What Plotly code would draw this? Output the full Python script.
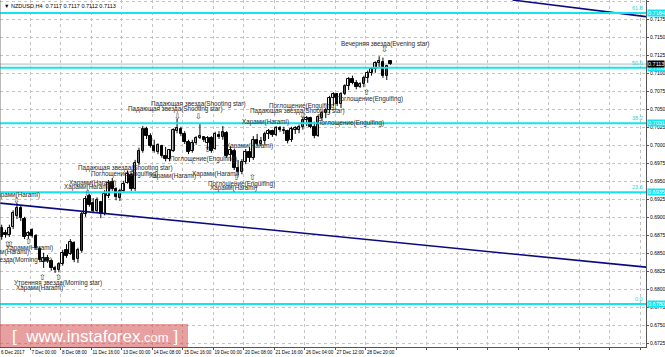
import plotly.graph_objects as go

# ---------------- data ----------------
opens = [0.6885,0.6878,0.6876,0.6887,0.6902,0.6913,0.6898,0.6874,0.6883,0.6874,
         0.6856,0.6838,0.6844,0.6840,0.6830,0.6827,0.6835,0.6855,0.6849,0.6865,
         0.6842,0.6853,0.6905,0.6930,0.6920,0.6909,0.6922,0.6905,0.6930,0.6950,
         0.6940,0.6927,0.6937,0.6948,0.6959,0.6940,0.6976,0.6992,0.7023,0.7013,
         0.6999,0.6991,0.6999,0.6985,0.6981,0.6992,0.7020,0.7023,0.7016,0.7005,
         0.6992,0.7003,0.7010,0.7012,0.7003,0.7010,0.6995,0.7015,0.7012,0.7017,
         0.6987,0.6992,0.6969,0.6963,0.6977,0.6991,0.6983,0.7008,0.7002,0.7006,
         0.7016,0.7020,0.7015,0.7024,0.7022,0.7020,0.7008,0.7021,0.7022,0.7026,
         0.7035,0.7038,0.7026,0.7013,0.7038,0.7045,0.7049,0.7066,0.7072,0.7058,
         0.7072,0.7083,0.7092,0.7087,0.7081,0.7085,0.7094,0.7101,0.7106,0.7115,
         0.7116,0.7097,0.7117]
highs = [0.6890,0.6883,0.6890,0.6910,0.6920,0.6916,0.6901,0.6881,0.6885,0.6877,
         0.6859,0.6851,0.6848,0.6842,0.6833,0.6838,0.6855,0.6863,0.6870,0.6867,
         0.6858,0.6908,0.6930,0.6933,0.6927,0.6928,0.6923,0.6938,0.6952,0.6955,
         0.6942,0.6940,0.6951,0.6965,0.6962,0.6980,0.6997,0.7027,0.7026,0.7017,
         0.7008,0.7003,0.7001,0.6998,0.6995,0.7024,0.7037,0.7026,0.7020,0.7008,
         0.7008,0.7013,0.7031,0.7013,0.7013,0.7013,0.7019,0.7020,0.7027,0.7020,
         0.6999,0.6995,0.6980,0.6981,0.6995,0.6998,0.7013,0.7016,0.7012,0.7019,
         0.7023,0.7022,0.7027,0.7027,0.7026,0.7022,0.7026,0.7027,0.7029,0.7040,
         0.7041,0.7040,0.7033,0.7043,0.7048,0.7052,0.7069,0.7074,0.7073,0.7074,
         0.7085,0.7095,0.7097,0.7091,0.7088,0.7097,0.7104,0.7109,0.7117,0.7124,
         0.7122,0.7112,0.7117]
lows = [0.6869,0.6872,0.6873,0.6884,0.6898,0.6895,0.6870,0.6870,0.6872,0.6855,
        0.6838,0.6830,0.6837,0.6826,0.6823,0.6824,0.6833,0.6844,0.6848,0.6838,
        0.6837,0.6851,0.6901,0.6915,0.6906,0.6907,0.6899,0.6903,0.6927,0.6937,
        0.6924,0.6923,0.6935,0.6947,0.6937,0.6937,0.6973,0.6990,0.7009,0.6997,
        0.6990,0.6988,0.6983,0.6978,0.6978,0.6991,0.7017,0.7013,0.7002,0.6988,
        0.6990,0.7001,0.7009,0.7005,0.6994,0.6990,0.6994,0.7009,0.7008,0.6983,
        0.6978,0.6966,0.6959,0.6960,0.6974,0.6977,0.6980,0.6999,0.6999,0.7001,
        0.7009,0.7012,0.7013,0.7019,0.7016,0.7003,0.7005,0.7016,0.7017,0.7022,
        0.7027,0.7024,0.7010,0.7012,0.7034,0.7038,0.7045,0.7055,0.7055,0.7052,
        0.7070,0.7077,0.7085,0.7078,0.7080,0.7081,0.7087,0.7097,0.7101,0.7108,
        0.7094,0.7091,0.7112]
closes = [0.6873,0.6876,0.6885,0.6906,0.6913,0.6899,0.6873,0.6878,0.6874,0.6858,
          0.6841,0.6844,0.6840,0.6830,0.6827,0.6835,0.6851,0.6847,0.6866,0.6841,
          0.6855,0.6905,0.6926,0.6918,0.6909,0.6924,0.6905,0.6933,0.6948,0.6940,
          0.6928,0.6937,0.6947,0.6960,0.6940,0.6976,0.6992,0.7023,0.7013,0.6999,
          0.6992,0.7001,0.6985,0.6981,0.6994,0.7022,0.7024,0.7016,0.7005,0.6991,
          0.7003,0.7010,0.7013,0.7008,0.7010,0.6992,0.7016,0.7012,0.7019,0.6985,
          0.6994,0.6969,0.6963,0.6977,0.6991,0.6983,0.7008,0.7002,0.7006,0.7016,
          0.7020,0.7015,0.7024,0.7022,0.7020,0.7006,0.7023,0.7024,0.7026,0.7035,
          0.7038,0.7026,0.7013,0.7040,0.7045,0.7049,0.7066,0.7072,0.7058,0.7072,
          0.7083,0.7092,0.7087,0.7081,0.7085,0.7094,0.7101,0.7106,0.7115,0.7118,
          0.7097,0.7110,0.7113]

date_labels = ["6 Dec 2017", "7 Dec 00:00", "8 Dec 08:00", "11 Dec 16:00", "13 Dec 00:00",
               "14 Dec 08:00", "15 Dec 16:00", "19 Dec 00:00", "20 Dec 08:00",
               "21 Dec 16:00", "26 Dec 04:00", "27 Dec 12:00", "28 Dec 20:00"]

fib_names = ["61.8", "50.0", "38.2", "23.6", "0.0"]
fib_prices = [0.7184, 0.7108, 0.7031, 0.6935, 0.6780]

last_price = 0.7113
header_text = "▼ NZDUSD,H4  0.7117 0.7117 0.7112 0.7113"

trend_low_bars = [-0.45, 169.0]
trend_low_prices = [0.6920, 0.6831]
trend_high_bars = [134.0, 169.0]
trend_high_prices = [0.7202, 0.7179]

label_texts = ["Вечерняя звезда(Evening star)", "Падающая звезда(Shooting star)",
               "Падающая звезда(Shooting star)", "Падающая звезда(Shooting star)",
               "Поглощение(Engulfing)", "Харами(Harami)", "Харами(Harami)",
               "Харами(Harami)", "Харами(Harami)", "Харами(Harami)",
               "Утренняя звезда(Morning star)", "Утренняя звезда(Morning star)",
               "Харами(Harami)", "Поглощение(Engulfing)", "Харами(Harami)",
               "Харами(Harami)", "Харами(Harami)", "Поглощение(Engulfing)",
               "Харами(Harami)", "Поглощение(Engulfing)", "Поглощение(Engulfing)",
               "Падающая звезда(Shooting star)", "Поглощение(Engulfing)", "Харами(Harami)"]
label_bars = [100.5, 51.5, 45.7, 32.6, 32.3, 23.9, 22.4, 3.75, 7.4, 0.87, 1.65, 14.8,
              10.0, 52.8, 64.9, 44.7, 56.2, 62.8, 60.7, 96.6, 79.0, 77.5, 91.4, 69.3]
label_prices = [0.7141, 0.7058, 0.7051, 0.6969, 0.6960, 0.6948, 0.6942, 0.6931, 0.6858,
                0.6852, 0.6841, 0.6809, 0.6802, 0.6981, 0.7000, 0.6958, 0.6960, 0.6947,
                0.6941, 0.7065, 0.7055, 0.7048, 0.7031, 0.7033]

arrow_bars = [100.3, 51.5, 46.0, 34.2, 22.6, 3.75, 1.4, 2.4, 6.9, 10.8, 14.8, 53.9,
              61.5, 65.7, 95.6, 78.8, 83.5]
arrow_prices = [0.7133, 0.7040, 0.7040, 0.6963, 0.6934, 0.6923, 0.6862, 0.6862, 0.6866,
                0.6817, 0.6817, 0.6994, 0.6956, 0.6955, 0.7074, 0.7041, 0.7040]
arrow_dirs = ["down", "down", "down", "down", "down", "down", "up", "up", "up", "up",
              "up", "up", "up", "up", "up", "down", "up"]

# ---------------- figure ----------------
W, H = 665, 357
ML, MR, MT, MB = 0, 19, 0, 10
idx = list(range(len(opens)))

fig = go.Figure()

# wicks
wx, wy = [], []
for i, (h, l) in enumerate(zip(highs, lows)):
    wx += [i, i, None]
    wy += [l, h, None]
fig.add_trace(go.Scatter(x=wx, y=wy, mode="lines", line=dict(color="black", width=1),
                         hoverinfo="skip", showlegend=False))

# bodies
body_base = [min(o, c) for o, c in zip(opens, closes)]
body_h = [max(abs(c - o), 0.00004) for o, c in zip(opens, closes)]
body_col = ["white" if c >= o else "black" for o, c in zip(opens, closes)]
fig.add_trace(go.Bar(x=idx, y=body_h, base=body_base, width=0.66,
                     marker=dict(color=body_col, line=dict(color="black", width=1)),
                     showlegend=False, hoverinfo="skip"))

# trend lines
fig.add_trace(go.Scatter(x=trend_low_bars, y=trend_low_prices, mode="lines",
                         line=dict(color="#0a0a80", width=1.6), showlegend=False, hoverinfo="skip"))
fig.add_trace(go.Scatter(x=trend_high_bars, y=trend_high_prices, mode="lines",
                         line=dict(color="#0a0a80", width=1.6), showlegend=False, hoverinfo="skip"))

shapes = []
# bid line
shapes.append(dict(type="line", xref="paper", x0=0, x1=1, yref="y", y0=last_price, y1=last_price,
                   line=dict(color="#d6d6d6", width=2), layer="below"))
# fib lines
for p in fib_prices:
    shapes.append(dict(type="line", xref="paper", x0=0, x1=1, yref="y", y0=p, y1=p,
                       line=dict(color="#12E4F0", width=2)))
# left border
shapes.append(dict(type="line", xref="paper", yref="paper", x0=0, x1=0, y0=0, y1=1,
                   line=dict(color="#777", width=1)))
# watermark box
plot_w = W - ML - MR
plot_h = H - MT - MB
shapes.append(dict(type="rect", xref="paper", yref="paper", x0=0, x1=188 / plot_w,
                   y0=0, y1=23 / plot_h, fillcolor="rgba(214,80,80,0.55)", line=dict(width=0)))

annotations = []
txt_font = dict(family="Liberation Sans, Arial", size=6.3, color="#2a2a2a")
for t, b, p in zip(label_texts, label_bars, label_prices):
    annotations.append(dict(x=b, y=p, xref="x", yref="y", text=t, showarrow=False,
                            font=txt_font, xanchor="center", yanchor="middle"))
for b, p, d in zip(arrow_bars, arrow_prices, arrow_dirs):
    annotations.append(dict(x=b, y=p, xref="x", yref="y", text="⇩" if d == "down" else "⇧",
                            showarrow=False, font=dict(family="DejaVu Sans", size=8, color="#333"),
                            xanchor="center", yanchor="middle"))
# fib level names and price boxes
for n, p in zip(fib_names, fib_prices):
    annotations.append(dict(x=0.998, y=p, xref="paper", yref="y", text=n, showarrow=False,
                            font=dict(family="Liberation Sans, Arial", size=5.5, color="#2ad8e0"),
                            xanchor="right", yanchor="bottom", yshift=0))
    annotations.append(dict(x=1, y=p, xref="paper", yref="y", text=f"{p:.4f}", showarrow=False,
                            font=dict(family="Liberation Sans, Arial", size=5.5, color="white"),
                            bgcolor="#12E4F0", borderpad=0, xanchor="left", yanchor="middle",
                            xshift=1))
annotations.append(dict(x=1, y=last_price, xref="paper", yref="y", text=f"{last_price:.4f}",
                        showarrow=False, font=dict(family="Liberation Sans, Arial", size=5.5, color="white"),
                        bgcolor="black", borderpad=0, xanchor="left", yanchor="middle", xshift=1))
# header
annotations.append(dict(x=0, y=1, xref="paper", yref="paper", text=header_text, showarrow=False,
                        font=dict(family="Liberation Sans, Arial", size=5.5, color="black"),
                        xanchor="left", yanchor="top", xshift=2, yshift=-1))
# watermark text
annotations.append(dict(x=95 / plot_w, y=11 / plot_h, xref="paper", yref="paper",
                        text="[  www.instaforex<span style='font-size:13px'>.com</span> ]",
                        showarrow=False, font=dict(family="Liberation Sans, Arial", size=17, color="white"),
                        xanchor="center", yanchor="middle"))

y_top = 0.72021
y_bot = y_top - plot_h * 0.0001389
yticks = [round(0.7200 - 0.0025 * k, 4) for k in range(20)]
xticks = [8 * k - 0.45 for k in range(22)]
xtext = date_labels + [""] * (len(xticks) - len(date_labels))

fig.update_layout(
    width=W, height=H,
    margin=dict(l=ML, r=MR, t=MT, b=MB, pad=0, autoexpand=False),
    plot_bgcolor="white", paper_bgcolor="white",
    barmode="overlay", bargap=0,
    showlegend=False,
    shapes=shapes, annotations=annotations,
    xaxis=dict(range=[-0.446, 169.0], tickmode="array", tickvals=xticks, ticktext=xtext,
               tickangle=0, automargin=False,
               showgrid=True, gridcolor="#c4c4c4", griddash="dot", gridwidth=1,
               zeroline=False, showline=True, linecolor="#555", linewidth=1,
               ticks="outside", ticklen=2, tickcolor="#555",
               ticklabelposition="outside right",
               tickfont=dict(family="Liberation Sans, Arial", size=4.6, color="black"),
               fixedrange=True),
    yaxis=dict(range=[y_bot, y_top], side="right", tickmode="array", tickvals=yticks,
               tickformat=".4f", automargin=False,
               showgrid=True, gridcolor="#c4c4c4", griddash="dot", gridwidth=1,
               zeroline=False, showline=True, linecolor="#555", linewidth=1,
               ticks="outside", ticklen=2, tickcolor="#555",
               tickfont=dict(family="Liberation Sans, Arial", size=5, color="black"),
               fixedrange=True),
)

fig.write_html("out.html")
